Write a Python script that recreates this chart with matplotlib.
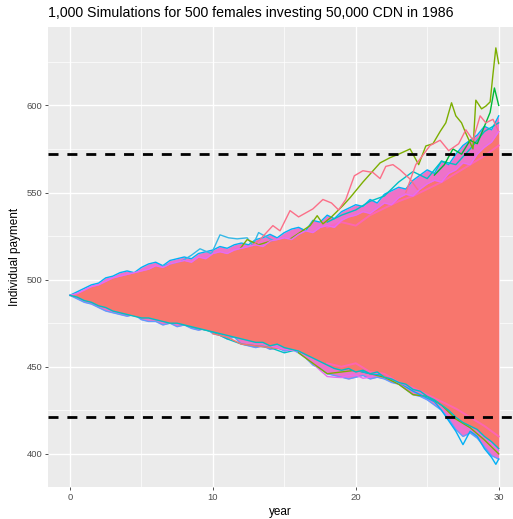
import numpy as np
import matplotlib
matplotlib.use("Agg")
import matplotlib.pyplot as plt

# ---------------- data ----------------
# envelope of the dense band, read every half year (x = 0, 0.5, ..., 30)
edge_x = [i * 0.5 for i in range(61)]

upper_edge_a = [491, 493, 495, 497, 498, 501, 502, 504, 505, 504, 507, 509, 510, 508, 511, 512,
                513, 512, 515, 516, 517, 519, 518, 520, 521, 520, 523, 524, 526, 524, 527, 529,
                530, 528, 534, 533, 537, 535, 539, 541, 543, 542, 546, 544, 549, 551, 553, 552,
                557, 560, 563, 561, 568, 566, 572, 577, 580, 583, 588, 586, 594]
upper_edge_b = [491, 492, 494, 496, 497, 499, 501, 502, 503, 504, 505, 506, 508, 507, 509, 510,
                511, 510, 513, 512, 515, 516, 515, 517, 518, 519, 520, 519, 522, 523, 524, 523,
                526, 528, 527, 530, 531, 530, 534, 536, 537, 539, 538, 541, 544, 543, 547, 549,
                548, 552, 555, 557, 556, 561, 563, 567, 566, 572, 576, 579, 585]
lower_edge_a = [491, 489, 487, 486, 484, 482, 481, 480, 479, 480, 477, 476, 476, 474, 475, 473,
                474, 472, 471, 472, 469, 468, 466, 467, 463, 462, 461, 462, 460, 461, 459, 460,
                458, 455, 451, 449, 446, 445, 444, 443, 444, 445, 443, 444, 443, 441, 440, 437,
                434, 433, 431, 428, 425, 420, 414, 410, 412, 409, 404, 399, 397]
lower_edge_b = [491, 490, 488, 487, 485, 484, 482, 481, 480, 479, 478, 478, 477, 476, 475, 475,
                474, 473, 472, 471, 470, 469, 468, 467, 466, 465, 464, 464, 462, 463, 461, 460,
                459, 457, 455, 453, 451, 449, 448, 449, 447, 448, 446, 447, 444, 443, 441, 440,
                437, 436, 433, 431, 428, 425, 421, 418, 416, 414, 410, 407, 403]

# hot-pink streaks inside the band (right half)
inner_x = [18, 19, 20, 21, 22, 23, 24, 25, 26, 27, 28, 29, 30]
inner_hot_hi = [530, 533, 531, 537, 541, 545, 548, 552, 556, 561, 566, 571, 577]
inner_hot_lo = [452, 450, 452, 447, 446, 441, 438, 434, 430, 426, 421, 416, 410]

# individual stand-out simulation paths
green_top_x = [11.9, 12.4, 13.2, 14.0, 15.0, 15.9, 16.8, 17.3, 17.7, 18.3, 19.1, 19.6, 20.5,
               21.1, 21.7, 22.4, 23.0, 23.8, 24.4, 24.9, 25.4, 25.9, 26.3, 26.7, 27.0, 27.4,
               27.7, 28.2, 28.4, 28.8, 29.1, 29.4, 29.6, 29.8, 30.0]
green_top_y = [517.7, 523, 520, 522, 521, 526, 531, 536.7, 532, 536, 542.5, 547, 556,
               561.5, 567, 570, 572, 575, 566, 576.7, 578, 585, 590, 601.5, 594, 590,
               584, 575, 603, 598, 599.6, 602, 618, 633, 624]

green2_x = [25.5, 26.2, 26.8, 27.4, 28.0, 28.5, 29.0, 29.4, 29.7, 30.0]
green2_y = [560, 566, 575, 572, 580, 578, 588, 596, 610, 600]

pink_top1_x = [12.5, 13.3, 14.2, 14.7, 15.4, 16.0, 17.0, 17.7, 18.3, 18.8, 19.3, 19.9, 20.5,
               21.2, 21.7, 22.1, 22.6, 23.1, 23.8, 24.3, 25.0]
pink_top1_y = [518, 523, 531, 528, 539.6, 536, 540.6, 546, 544, 540, 546, 559.6, 562.5,
               561.5, 558, 565, 566, 563, 557.7, 552, 548]

pink_top2_x = [23.5, 24.2, 25.2, 25.9, 26.5, 27.2, 27.7, 28.2, 28.7, 29.1, 29.6, 30.0]
pink_top2_y = [550, 566, 577, 580, 574, 578, 586, 580, 594, 590, 592, 585]

blue_early_x = [6.5, 7.7, 8.5, 9.1, 9.9, 10.5, 11.1, 11.7, 12.4, 12.8, 13.2, 14.0, 14.6]
blue_early_y = [508, 510, 514, 517.7, 514.9, 525.7, 524, 523.4, 524, 519.6, 527, 523.4, 521]

teal_top_x = [18, 19, 20, 21, 22, 23, 24, 25, 26, 27, 28, 29, 30]
teal_top_y = [533, 537, 540, 545, 548, 556, 562, 558, 568, 566, 575, 585, 590]

cyan_bot_x = [20, 21, 22, 23, 24, 25, 25.5, 26, 26.5, 27, 27.5, 28, 28.5, 29, 29.5, 29.8, 30]
cyan_bot_y = [448, 446, 445, 441, 436, 432, 430, 425, 419, 413, 405.3, 413, 410, 403, 398, 394, 397]

green_bot_x = [16, 17, 18, 19, 20, 21, 22, 23, 24, 25, 26, 27, 28, 29, 30]
green_bot_y = [458, 452, 446, 447, 448, 446, 444, 440, 434, 433, 428, 420, 415, 408, 400]

mag_bot_x = [14, 15, 16, 17, 17.5, 18, 18.5, 19, 19.5, 20, 20.5, 21, 22, 23, 24, 25, 26,
             27, 28, 29, 30]
mag_bot_y = [462, 460, 459, 452, 448, 444.4, 444, 443.8, 445, 445.3, 443.4, 444, 447, 443,
             438, 434, 429, 423, 414, 410, 402]

salmon_bot_x = [10, 11, 12, 13, 14, 15, 16]
salmon_bot_y = [469, 467, 463, 462, 461, 460, 462]

teal_bot_x = [8, 9, 10, 11, 12, 13, 14, 15, 16]
teal_bot_y = [474, 472, 470, 466, 463, 462, 461, 458, 460]

cutoffs = [572, 421]

title = "1,000 Simulations for 500 females investing 50,000 CDN in 1986"
x_ticks = [0, 10, 20, 30]
y_ticks = [400, 450, 500, 550, 600]

# ---------------- drawing ----------------
plt.rcParams['font.family'] = ['Liberation Sans', 'DejaVu Sans']
fig = plt.figure(figsize=(5.13, 5.19), dpi=100)
fig.patch.set_facecolor('white')
ax = fig.add_axes([0.0945, 0.0617, 0.9055, 0.8863])
ax.set_facecolor('#EBEBEB')

ax.set_xlim(-1.5, 31.0)
ax.set_ylim(381, 645)

# grid
for v in [5, 15, 25]:
    ax.axvline(v, color='white', lw=0.5, zorder=0)
for v in [425, 475, 525, 575, 625]:
    ax.axhline(v, color='white', lw=0.5, zorder=0)
for v in x_ticks:
    ax.axvline(v, color='white', lw=1.0, zorder=0)
for v in y_ticks:
    ax.axhline(v, color='white', lw=1.0, zorder=0)

lw = 1.0
# fringe of the band (mixed hues)
ax.fill_between(edge_x, lower_edge_a, upper_edge_a, color='#EE72C8', lw=0, zorder=1)
ax.plot(edge_x, upper_edge_a, color='#00B0F6', lw=lw, zorder=2)
ax.plot(edge_x, lower_edge_a, color='#619CFF', lw=lw, zorder=2)

ax.plot(blue_early_x, blue_early_y, color='#35B8E6', lw=lw, zorder=2)
ax.plot(teal_top_x, teal_top_y, color='#00BFC4', lw=lw, zorder=2)
ax.plot(green2_x, green2_y, color='#00BA38', lw=lw, zorder=2)
ax.plot(green_top_x, green_top_y, color='#7CAE00', lw=lw, zorder=3)
ax.plot(pink_top1_x, pink_top1_y, color='#FC6F88', lw=lw, zorder=3)
ax.plot(pink_top2_x, pink_top2_y, color='#FC6F88', lw=lw, zorder=3)

ax.plot(teal_bot_x, teal_bot_y, color='#00BFC4', lw=lw, zorder=2)
ax.plot(salmon_bot_x, salmon_bot_y, color='#F8766D', lw=lw, zorder=2)
ax.plot(mag_bot_x, mag_bot_y, color='#E76BF3', lw=lw, zorder=2)
ax.plot(green_bot_x, green_bot_y, color='#7CAE00', lw=lw, zorder=2)
ax.plot(cyan_bot_x, cyan_bot_y, color='#00B0F6', lw=lw, zorder=2)

# dense core
ax.fill_between(edge_x, lower_edge_b, upper_edge_b, color='#F8766D', lw=0, zorder=4)
ax.plot(inner_x, inner_hot_hi, color='#FF61C3', lw=1.4, alpha=0.8, zorder=4.5)
ax.plot(inner_x, inner_hot_lo, color='#FF61C3', lw=1.4, alpha=0.8, zorder=4.5)
ax.plot(edge_x, upper_edge_b, color='#E76BF3', lw=lw, zorder=5)
ax.plot(edge_x, lower_edge_b, color='#00BFC4', lw=lw, zorder=5)

for c in cutoffs:
    ax.axhline(c, color='black', lw=2.0, ls=(0, (3.6, 3.2)), zorder=6)

ax.set_xticks(x_ticks)
ax.set_yticks(y_ticks)
ax.tick_params(axis='both', colors='#333333', labelcolor='#4D4D4D', labelsize=6.8,
               length=2.5, width=0.6, pad=2)
for s in ax.spines.values():
    s.set_visible(False)

ax.set_xlabel('year', fontsize=8.5, labelpad=3)
ax.set_ylabel('Individual payment', fontsize=8.5, labelpad=4)
ax.set_title(title, fontsize=10.2, loc='left', pad=7)

fig.savefig('out.png', dpi=100)
